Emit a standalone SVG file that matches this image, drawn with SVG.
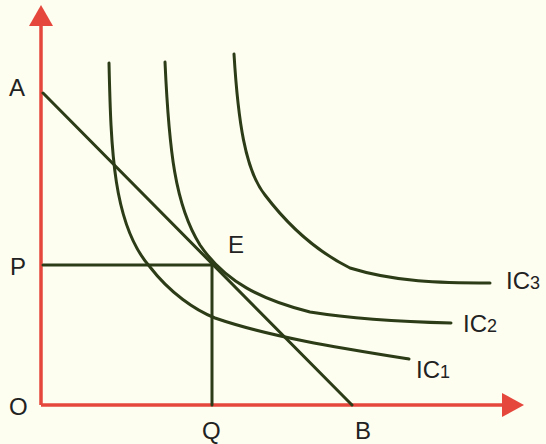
<svg xmlns="http://www.w3.org/2000/svg" width="546" height="444" viewBox="0 0 546 444">
<style>
.axis{stroke:#e5473d;stroke-width:3.5;fill:none}
.ln{stroke:#2c3c16;stroke-width:3;fill:none;stroke-linecap:round}
.lbl{font-family:"Liberation Sans",Arial,sans-serif;font-size:24px;fill:#222}
.sub{font-size:18px}
</style>
<rect width="546" height="444" fill="#fdfdf0"/>
<g id="axes">
<line class="axis" x1="41" y1="405" x2="41" y2="22"/>
<line class="axis" x1="41" y1="405" x2="505" y2="405"/>
<polygon points="41,5 29,26 53,26" fill="#e5473d"/>
<polygon points="524,405 502,393 502,417" fill="#e5473d"/>
</g>
<g id="connectors">
<line class="ln" x1="43" y1="93" x2="352" y2="405"/>
<line class="ln" x1="43" y1="265" x2="212" y2="265"/>
<line class="ln" x1="212" y1="265" x2="212" y2="405"/>
</g>
<g id="IC1">
<path class="ln" d="M109,63 C111,150 113,225 150,267 C170,293 195,310 215,318 C270,337 340,348 409,359"/>
</g>
<g id="IC2">
<path class="ln" d="M165,62 C169,150 175,205 200,245 C225,282 262,300 310,312 C360,320 410,322 451,323"/>
</g>
<g id="IC3">
<path class="ln" d="M234,54 C238,120 245,170 265,195 C290,228 318,252 350,268 C395,282 440,283 490,283"/>
</g>
<g id="labels">
<text class="lbl" x="9" y="96">A</text>
<text class="lbl" x="10" y="275">P</text>
<text class="lbl" x="9" y="415">O</text>
<text class="lbl" x="202" y="439">Q</text>
<text class="lbl" x="355" y="439">B</text>
<text class="lbl" x="228" y="253">E</text>
<text class="lbl" x="416" y="378">IC<tspan class="sub">1</tspan></text>
<text class="lbl" x="463" y="332">IC<tspan class="sub">2</tspan></text>
<text class="lbl" x="506" y="289">IC<tspan class="sub">3</tspan></text>
</g>
</svg>
